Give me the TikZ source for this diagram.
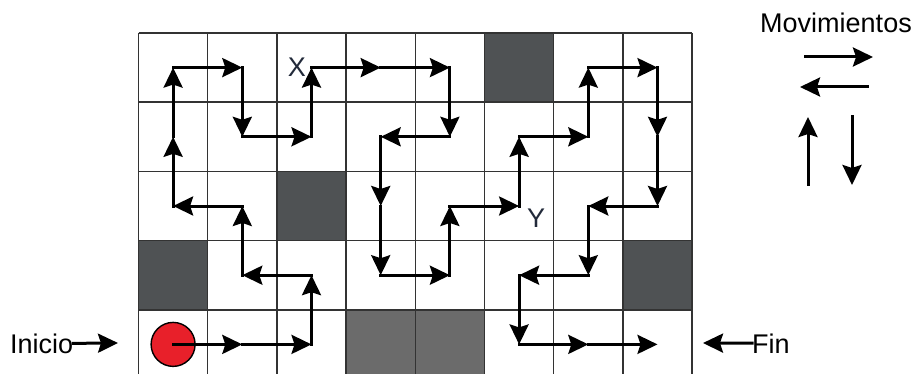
\documentclass[tikz,border=0pt]{standalone}
\usepackage{fontspec}
\setmainfont{Liberation Sans}
\usetikzlibrary{arrows.meta}
\definecolor{darkcell}{HTML}{4F5254}
\definecolor{midcell}{HTML}{6B6B6B}
\definecolor{redball}{HTML}{E8202A}
\definecolor{gridc}{HTML}{333333}
\definecolor{xcol}{HTML}{222A3A}
\tikzset{
  headtip/.tip={Stealth[length=20pt,width=19pt,inset=3pt]},
  arr/.style={line width=3pt, line cap=rect, -headtip},
  lbl/.style={inner sep=0pt, font=\fontsize{27}{30}\selectfont},
  gridline/.style={line width=1.4pt, draw=gridc}}
\begin{document}
\begin{tikzpicture}[x=1pt,y=-1pt]
\clip (0,0) rectangle (920,374);
\fill[white] (0,0) rectangle (920,374);
\def\gx{138.5}\def\gy{33}\def\cs{69.2}
\foreach \i/\j/\c in {5/0/darkcell,2/2/darkcell,0/3/darkcell,7/3/darkcell,3/4/midcell,4/4/midcell}
  \fill[\c] ({\gx+\i*\cs},{\gy+\j*\cs}) rectangle ++(\cs,\cs);
\foreach \i in {0,...,8} \draw[gridline] ({\gx+\i*\cs},\gy) -- ({\gx+\i*\cs},{\gy+5*\cs});
\foreach \j in {0,...,5} \draw[gridline] (\gx,{\gy+\j*\cs}) -- ({\gx+8*\cs},{\gy+\j*\cs});
\foreach \i in {0,...,7}{\foreach \j in {0,...,4}{
  \coordinate (c\i\j) at ({\gx+(\i+0.5)*\cs},{\gy+(\j+0.5)*\cs});}}
\node[circle, draw, fill=redball, minimum size=44pt, line width=1.4pt, inner sep=0pt] (start) at (c04) {};
\draw[arr] (start.center) -- (c14);
\foreach \a/\b in {14/24,24/23,23/13,13/12,12/02,02/01,01/00,00/10,10/11,11/21,21/20,20/30,30/40,40/41,41/31,31/32,32/33,33/43,43/42,42/52,52/51,51/61,61/60,60/70,70/71,71/72,72/62,62/63,63/53,53/54,54/64,64/74}
  \draw[arr] (c\a) -- (c\b);
\node[lbl, anchor=base, text=xcol] (X) at (297,77) {X};
\node[lbl, anchor=base, text=xcol] (Y) at (536,227) {Y};
\node[lbl, anchor=base] (mov) at (836,33) {Movimientos};
\coordinate (r1) at (805,57); \coordinate (r2) at (873,57);
\coordinate (l1) at (867,87); \coordinate (l2) at (800,87);
\coordinate (u1) at (808,185); \coordinate (u2) at (808,117);
\coordinate (d1) at (852,117); \coordinate (d2) at (852,185);
\draw[arr] (r1) -- (r2);
\draw[arr] (l1) -- (l2);
\draw[arr] (u1) -- (u2);
\draw[arr] (d1) -- (d2);
\node[lbl, anchor=base west] (inicio) at (10,353) {Inicio};
\coordinate (initip) at (118,343);
\draw[arr] (inicio.east) -- (initip);
\node[lbl, anchor=base west] (fin) at (752,353) {Fin};
\coordinate (fintip) at (703,343);
\draw[arr] (fin.west) -- (fintip);
\end{tikzpicture}
\end{document}
